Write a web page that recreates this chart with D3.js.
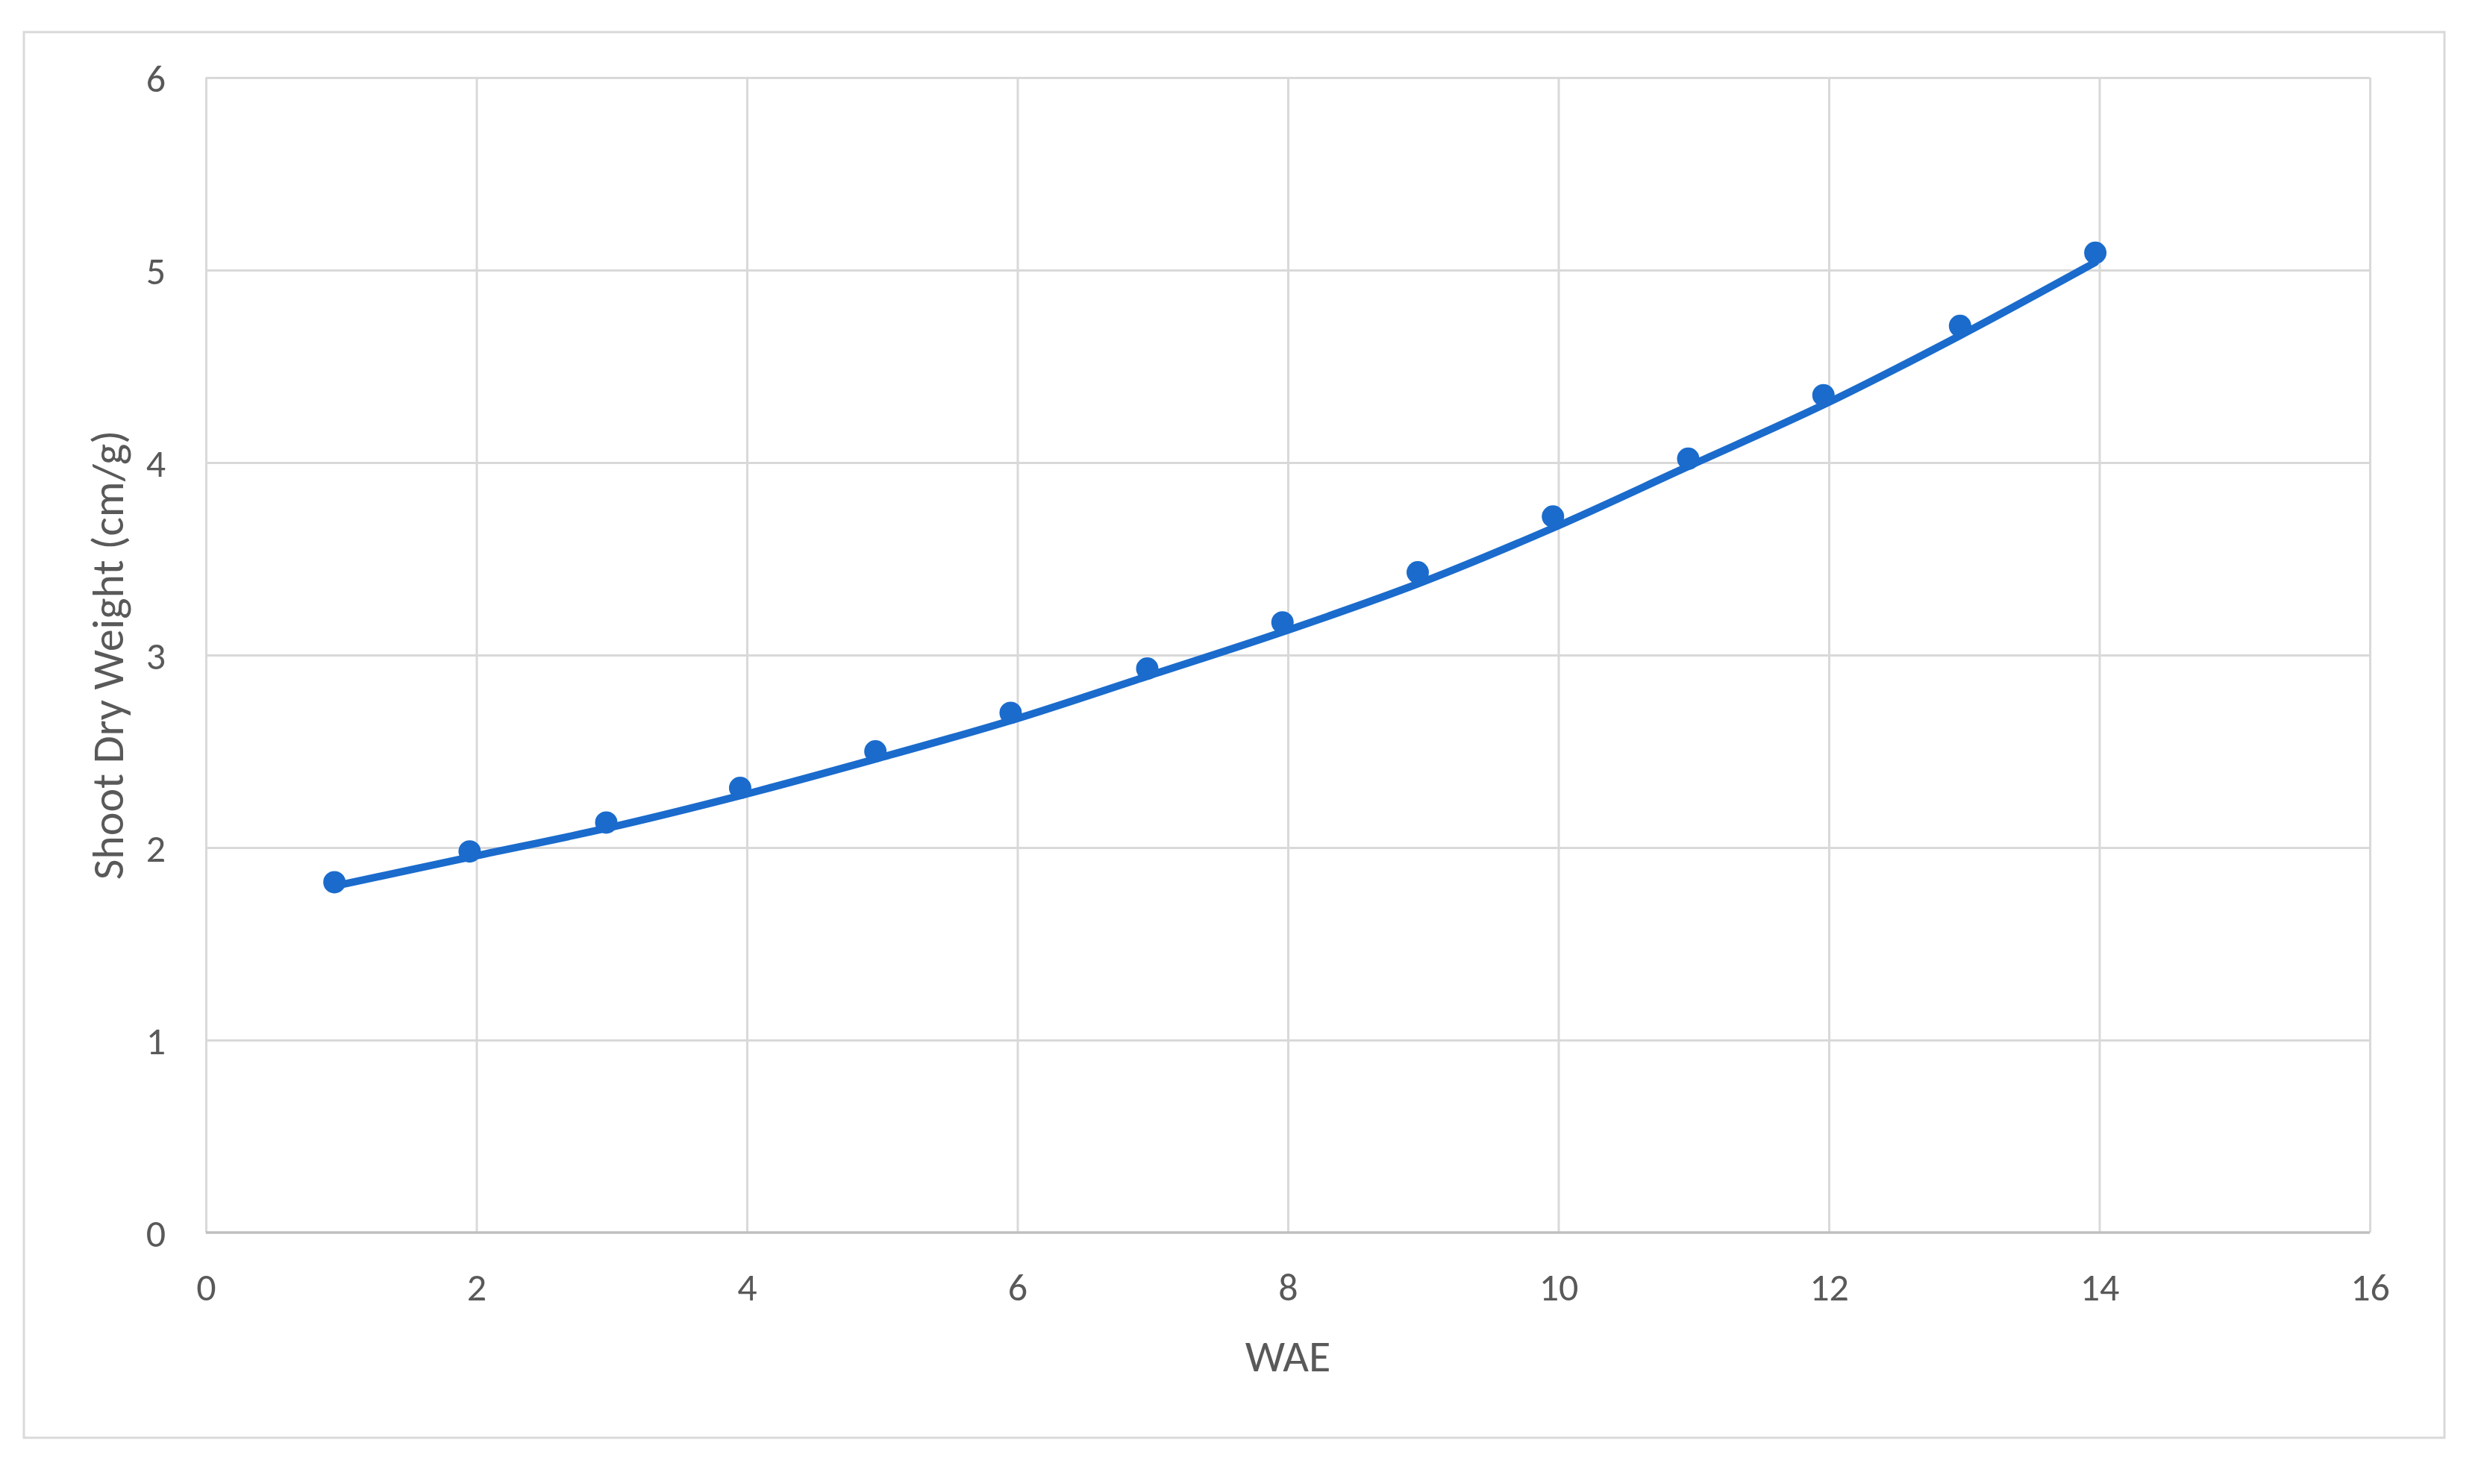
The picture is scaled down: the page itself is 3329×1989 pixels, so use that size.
<!DOCTYPE html>
<html>
<head>
<meta charset="utf-8">
<script src="https://cdn.jsdelivr.net/npm/d3@7"></script>
<style>
  html, body { margin: 0; padding: 0; background: #ffffff; }
  svg { display: block; }
  text { font-family: Carlito, Lato, "Open Sans", sans-serif; fill: #595959; }
</style>
</head>
<body>
<script>
// ---- data ----
const wae = [0.95, 1.95, 2.96, 3.95, 4.95, 5.95, 6.96, 7.96, 8.96, 9.96, 10.96, 11.96, 12.97, 13.97];
const shootDryWeight = [1.82, 1.98, 2.13, 2.31, 2.50, 2.70, 2.93, 3.17, 3.43, 3.72, 4.02, 4.35, 4.71, 5.09];
const trendValues = [1.80, 1.95, 2.10, 2.27, 2.46, 2.66, 2.89, 3.12, 3.37, 3.66, 3.98, 4.30, 4.66, 5.04];
const xTicks = [0, 2, 4, 6, 8, 10, 12, 14, 16];
const yTicks = [0, 1, 2, 3, 4, 5, 6];
const xTitle = "WAE";
const yTitle = "Shoot Dry Weight (cm/g)";

// ---- layout ----
const W = 3329, H = 1989;
const plot = { left: 276, right: 3176, top: 104, bottom: 1652 };
const blue = "#1a6bcc";
const grid = "#d9d9d9";

const svg = d3.select("body").append("svg").attr("width", W).attr("height", H);
svg.append("rect").attr("width", W).attr("height", H).attr("fill", "#ffffff");

// outer chart frame
svg.append("rect")
  .attr("x", 32).attr("y", 43).attr("width", 3244).attr("height", 1884)
  .attr("fill", "#ffffff").attr("stroke", "#d9d9d9").attr("stroke-width", 3);

const x = d3.scaleLinear().domain([0, 16]).range([plot.left, plot.right]);
const y = d3.scaleLinear().domain([0, 6]).range([plot.bottom, plot.top]);

// gridlines
const gx = svg.append("g").attr("transform", `translate(0,${plot.bottom})`)
  .call(d3.axisBottom(x).tickValues(xTicks).tickSize(-(plot.bottom - plot.top)).tickFormat(""));
gx.select(".domain").remove();
gx.selectAll("line").attr("stroke", grid).attr("stroke-width", 3);

const gy = svg.append("g").attr("transform", `translate(${plot.left},0)`)
  .call(d3.axisLeft(y).tickValues(yTicks.filter(v => v > 0)).tickSize(-(plot.right - plot.left)).tickFormat(""));
gy.select(".domain").remove();
gy.selectAll("line").attr("stroke", grid).attr("stroke-width", 3);

// bottom axis line
svg.append("line")
  .attr("x1", plot.left).attr("x2", plot.right)
  .attr("y1", y(0)).attr("y2", y(0))
  .attr("stroke", "#bfbfbf").attr("stroke-width", 3.5);

// tick labels
const xAxis = svg.append("g").attr("transform", `translate(0,${plot.bottom})`)
  .call(d3.axisBottom(x).tickValues(xTicks).tickFormat(d3.format("d")).tickSize(0).tickPadding(0));
xAxis.select(".domain").remove();
xAxis.selectAll("text")
  .attr("y", 73).attr("dy", "0.35em")
  .style("font-size", "52px")
  .style("font-family", "Carlito, Lato, sans-serif")
  .attr("fill", "#595959");

const yAxis = svg.append("g").attr("transform", `translate(${plot.left},0)`)
  .call(d3.axisLeft(y).tickValues(yTicks).tickFormat(d3.format("d")).tickSize(0).tickPadding(0));
yAxis.select(".domain").remove();
yAxis.selectAll("text")
  .attr("x", -54).attr("dy", "0.35em")
  .style("font-size", "52px")
  .style("font-family", "Carlito, Lato, sans-serif")
  .attr("fill", "#595959");

// axis titles
svg.append("text")
  .attr("x", (plot.left + plot.right) / 2).attr("y", 1817)
  .attr("text-anchor", "middle").attr("dy", "0.35em")
  .style("font-size", "60px")
  .text(xTitle);

svg.append("text")
  .attr("transform", `translate(144,${(plot.top + plot.bottom) / 2}) rotate(-90)`)
  .attr("text-anchor", "middle").attr("dy", "0.35em")
  .style("font-size", "60px")
  .text(yTitle);

// trend line
const trend = wae.map((v, i) => [v, trendValues[i]]);
svg.append("path")
  .datum(trend)
  .attr("fill", "none")
  .attr("stroke", blue)
  .attr("stroke-width", 10)
  .attr("stroke-linecap", "round")
  .attr("d", d3.line().x(d => x(d[0])).y(d => y(d[1])).curve(d3.curveCatmullRom.alpha(0.5)));

// markers
svg.append("g").selectAll("circle")
  .data(wae.map((v, i) => [v, shootDryWeight[i]]))
  .join("circle")
  .attr("cx", d => x(d[0]))
  .attr("cy", d => y(d[1]))
  .attr("r", 15)
  .attr("fill", blue);
</script>
</body>
</html>
